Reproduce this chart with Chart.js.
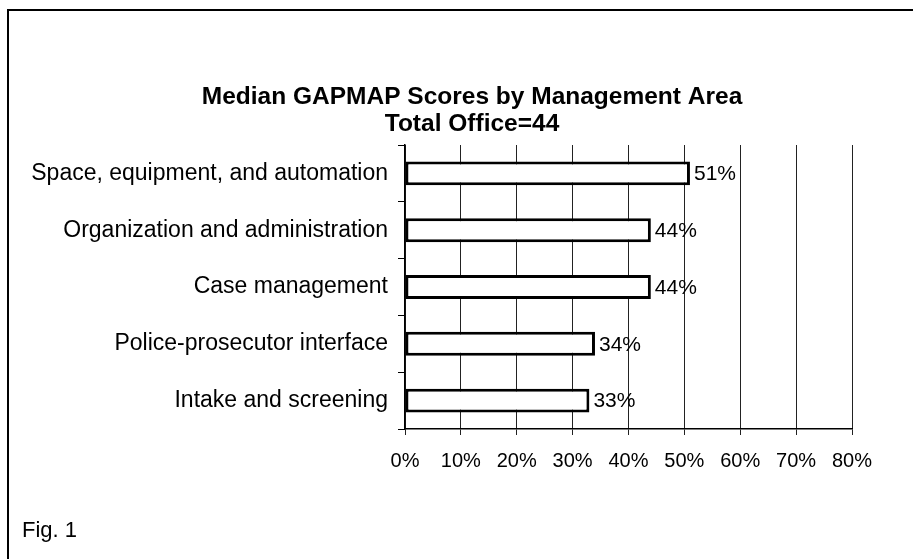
<!DOCTYPE html>
<html>
<head>
<meta charset="utf-8">
<script src="https://cdn.jsdelivr.net/npm/chart.js@4.4.1/dist/chart.umd.min.js"></script>
<style>
  html, body { margin: 0; padding: 0; background: #fff; overflow: hidden; }
  #wrap { position: relative; width: 913px; height: 559px; }
  #frame { position: absolute; left: 7px; top: 9px; right: -10px; bottom: -10px; border: 2px solid #000; }
  canvas { position: absolute; left: 0; top: 0; }
</style>
</head>
<body>
<div id="wrap">
  <div id="frame"></div>
  <canvas id="gapChart" width="913" height="559"></canvas>
</div>
<script>
const categories = [
  'Space, equipment, and automation',
  'Organization and administration',
  'Case management',
  'Police-prosecutor interface',
  'Intake and screening'
];
const scores = [51, 44, 44, 34, 33];
const titleLines = ['Median GAPMAP Scores by Management Area', 'Total Office=44'];
const figLabel = 'Fig. 1';

const FONT = "'Liberation Sans', Arial, sans-serif";

// value labels at the end of each bar
const valueLabels = {
  id: 'valueLabels',
  afterDatasetsDraw(chart) {
    const ctx = chart.ctx;
    const meta = chart.getDatasetMeta(0);
    ctx.save();
    ctx.font = '21px ' + FONT;
    ctx.fillStyle = '#000';
    ctx.textBaseline = 'middle';
    ctx.textAlign = 'left';
    meta.data.forEach((bar, i) => {
      ctx.fillText(scores[i] + '%', bar.x + 4, bar.y + 1);
    });
    ctx.restore();
  }
};

// two-line title, centred a little right of the page centre like the original,
// plus the "Fig. 1" caption in the lower left corner
const captions = {
  id: 'captions',
  afterDraw(chart) {
    const ctx = chart.ctx;
    ctx.save();
    ctx.fillStyle = '#000';
    ctx.textBaseline = 'middle';
    ctx.textAlign = 'center';
    ctx.font = 'bold 24.5px ' + FONT;
    titleLines.forEach((line, i) => ctx.fillText(line, 472, 97 + i * 27));
    ctx.textAlign = 'left';
    ctx.font = '22px ' + FONT;
    ctx.fillText(figLabel, 22, 531);
    ctx.restore();
  }
};

const padLeft = 20;

new Chart(document.getElementById('gapChart').getContext('2d'), {
  type: 'bar',
  data: {
    labels: categories,
    datasets: [{
      data: scores,
      backgroundColor: '#fff',
      borderColor: '#000',
      borderWidth: 3,
      borderSkipped: false,
      barPercentage: 0.42,
      categoryPercentage: 1
    }]
  },
  options: {
    indexAxis: 'y',
    responsive: false,
    animation: false,
    devicePixelRatio: 1,
    layout: { padding: { left: padLeft, right: 61, top: 145, bottom: 72 } },
    plugins: {
      legend: { display: false },
      tooltip: { enabled: false },
      title: { display: false }
    },
    scales: {
      x: {
        min: 0,
        max: 80,
        ticks: {
          stepSize: 10,
          color: '#000',
          font: { family: FONT, size: 20 },
          padding: 14,
          callback: v => v + '%'
        },
        grid: { color: '#222', lineWidth: 1, tickLength: 6 },
        border: { color: '#000', width: 1.5 }
      },
      y: {
        afterFit(scale) { scale.width = 405 - padLeft; },
        ticks: {
          color: '#000',
          font: { family: FONT, size: 23 },
          padding: 10
        },
        grid: { offset: true, drawOnChartArea: false, tickLength: 7, color: '#000' },
        border: { color: '#000', width: 1.5 }
      }
    }
  },
  plugins: [valueLabels, captions]
});
</script>
</body>
</html>
